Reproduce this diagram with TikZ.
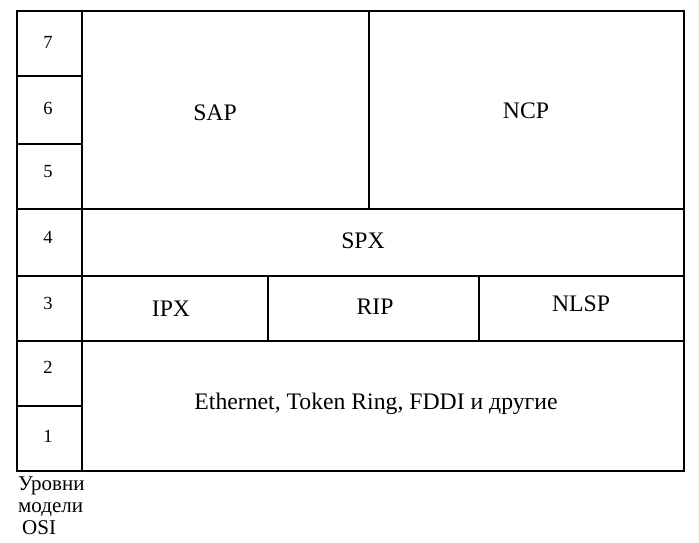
\documentclass[tikz,border=0pt]{standalone}
\usepackage{fontspec}
\setmainfont{Liberation Serif}
\usetikzlibrary{positioning}

\tikzset{
  frame/.style={line width=1.3pt},
  lvl/.style={inner sep=0pt, font=\fontsize{18.5}{20}\selectfont},
  proto/.style={inner sep=0pt, font=\fontsize{23.7}{28}\selectfont},
}

\begin{document}
\begin{tikzpicture}[x=1pt, y=-1pt]
            \useasboundingbox (0,0) rectangle (699,543);
            % table lines
            \draw[frame] (17,11) rectangle (684,471);
            \draw[frame] (82,11) -- (82,471);
            \foreach \y in {76,144,406}
                \draw[frame] (17,\y) -- (82,\y);
            \foreach \y in {209,276,341}
                \draw[frame] (17,\y) -- (684,\y);
            \draw[frame] (369,11) -- (369,209);
            \draw[frame] (268,276) -- (268,341);
            \draw[frame] (479,276) -- (479,341);

            % OSI levels
            \draw (48,42) node[lvl]                  (l7) {7};
            \draw (48,108) node[lvl]                 (l6) {6};
            \draw (48,172) node[lvl]                 (l5) {5};
            \draw (48,237) node[lvl]                 (l4) {4};
            \draw (48,303) node[lvl]                 (l3) {3};
            \draw (48,367) node[lvl]                 (l2) {2};
            \draw (48,436) node[lvl]                 (l1) {1};

            % protocols
            \draw (215,113) node[proto]              (sap) {SAP};
            \draw (526,111) node[proto]              (ncp) {NCP};
            \draw (363,241) node[proto]              (spx) {SPX};
            \draw (171,309) node[proto]              (ipx) {IPX};
            \draw (375,307) node[proto]              (rip) {RIP};
            \draw (581,304) node[proto]              (nlsp) {NLSP};
            \draw (376,404) node[proto]              (eth) {Ethernet, Token Ring, FDDI и другие};

            \draw (18,477) node[anchor=north west, inner sep=0pt, align=left,
                font=\fontsize{21}{22}\selectfont] (osi) {Уровни\\модели\\\hspace*{4pt}OSI};
\end{tikzpicture}
\end{document}
